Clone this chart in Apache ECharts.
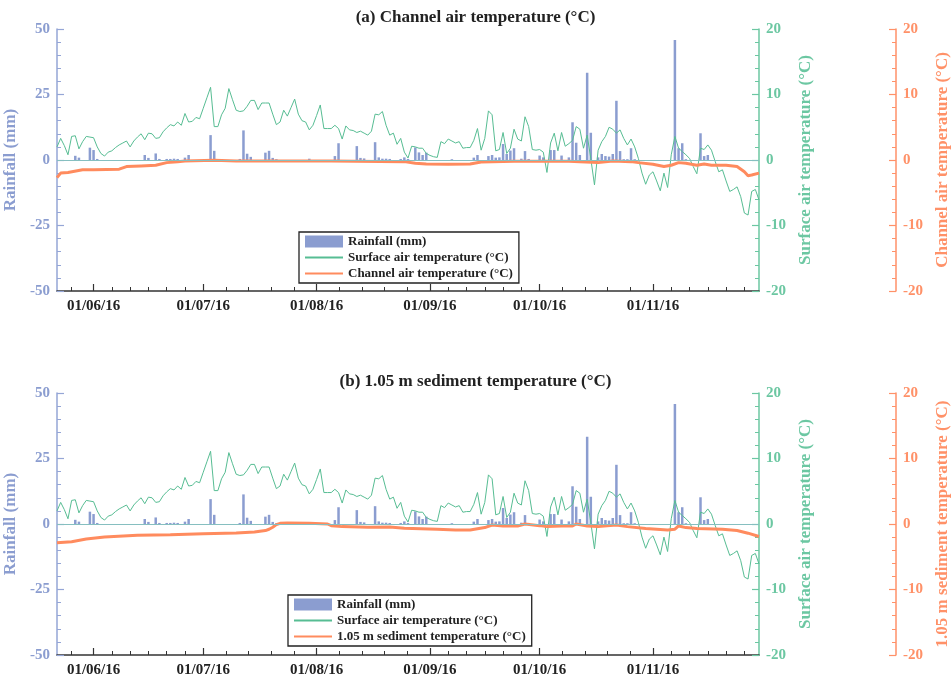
<!DOCTYPE html>
<html>
<head>
<meta charset="utf-8">
<script src="https://cdn.jsdelivr.net/npm/echarts@6/dist/echarts.min.js"></script>
<style>
html,body{margin:0;padding:0;background:#fff;}
#chart{width:951px;height:684px;}
</style>
</head>
<body>
<div id="chart"></div>
<script>
// ---------------- DATA ----------------
// daily series starting 22 May 2016 (index 0) to 30 Nov 2016 (index 192)
const startYear = 2016, startMonth = 4, startDay = 22;

const rainfall = [
 0,0,0,0,0,1.6,0.9,0,0,4.7,
 3.8,0.4,0,0,0,0,0,0,0,0,
 0,0,0,0,1.9,0.8,0,2.5,0.4,0,
 0.4,0.4,0.5,0.4,0,0.9,1.9,0,0,0,
 0,0,9.5,3.5,0,0,0,0,0,0,
 0.4,11.3,2.4,1.2,0,0,0,2.8,3.5,0.8,
 0.3,0,0,0,0,0,0,0,0,0.5,
 0,0,0,0,0,0,1.5,6.4,0,0,
 0,0,5.3,0.8,0.6,0,0,6.8,1.0,0.5,
 0.5,0.4,0,0,0.4,1.0,0.4,0,4.8,2.9,
 1.9,2.8,0,0,0,0,0,0,0.3,0,
 0,0,0,0,0.9,1.9,0,0,1.5,1.9,
 0.9,1.0,6.1,2.3,3.6,4.5,0,0.5,3.4,0.4,
 0,0,1.7,1.0,0,3.8,3.8,0,1.7,0,
 1.0,14.4,6.6,1.9,0,33.3,10.4,0,1.0,2.3,
 1.5,1.3,2.3,22.6,3.4,0.3,0.3,4.5,0.3,0,
 0,0,0,0,0,0,0,0,0,45.8,
 4.5,6.4,0.3,0,0,0,10.2,1.5,1.9,0,
 0,0,0,0,0,0,0,0,0,0,
 0,0,0
];

const surfaceTemp = [
 2.0,3.3,2.2,0.8,3.6,3.7,1.7,2.8,3.6,3.5,
 3.4,2.0,1.0,0.6,1.2,1.4,1.9,2.3,2.6,2.9,
 2.0,2.9,3.5,4.0,3.1,4.1,4.0,3.3,3.4,4.3,
 4.9,5.4,5.2,5.8,5.3,7.1,5.8,5.9,6.5,6.3,
 7.9,9.5,11.1,5.1,5.1,6.9,7.9,10.9,9.2,7.6,
 7.4,7.5,8.2,9.1,9.1,7.7,8.7,8.7,8.7,7.0,
 5.4,5.8,7.6,6.7,8.0,9.3,7.0,6.0,5.8,4.6,
 5.3,6.8,8.4,4.8,4.8,4.8,5.3,4.8,3.2,5.2,
 4.6,4.5,4.2,4.4,4.1,3.8,4.4,7.0,6.9,7.4,
 5.3,3.8,4.1,2.4,3.3,1.2,0.3,2.1,2.0,1.8,
 1.8,1.0,0.7,0.5,0.4,2.8,2.5,3.2,2.9,2.6,
 2.8,1.8,1.9,1.9,3.0,4.8,1.5,3.3,7.5,6.9,
 1.4,1.6,4.2,1.0,1.8,4.7,3.2,2.9,6.6,5.1,
 1.6,1.5,1.6,1.2,-1.9,2.6,4.1,1.4,4.2,2.1,
 2.5,3.0,5.1,4.7,1.8,3.8,0.2,-3.8,1.5,2.8,
 3.6,5.0,4.7,4.1,4.6,3.3,2.3,3.2,2.0,0.25,
 -2.0,-3.7,-2.3,-1.8,-3.2,-4.7,-2.0,-4.2,0.8,3.6,
 1.8,1.3,0.8,0.25,-1.0,-2.1,1.8,1.6,2.3,1.5,
 -0.2,-1.8,-1.5,-3.2,-4.8,-4.5,-4.1,-5.6,-8.1,-8.4,
 -4.8,-4.5,-6.1
];

// channel air temperature: day index and value
const channelDay = [0,1,3,7,10,17,19,23,27,30,33,35,43,49,60,75,95,98,101,107,113,116,125,140,143,148,152,157,159,163,166,168,170,172,175,177,179,183,186,188,189,190,192];
const channelTemp = [-2.7,-2.0,-1.9,-1.5,-1.5,-1.4,-1.0,-0.9,-0.8,-0.4,-0.25,-0.15,-0.05,-0.15,-0.15,-0.15,-0.25,-0.5,-0.6,-0.65,-0.6,-0.3,-0.2,-0.2,-0.25,-0.4,-0.15,-0.25,-0.4,-0.66,-1.0,-0.8,-0.4,-0.5,-0.8,-0.6,-0.8,-0.8,-1.0,-1.8,-2.4,-2.3,-2.0];

// 1.05 m sediment temperature: day index and value
const sedimentDay = [0,4,8,13,22,31,40,49,54,57,58,59,60,61,63,69,74,75,78,85,91,95,104,109,113,117,119,122,126,128,132,134,138,141,142,145,148,153,156,161,167,169,170,172,175,182,186,189,192];
const sedimentTemp = [-2.85,-2.7,-2.3,-2.0,-1.73,-1.63,-1.48,-1.37,-1.22,-1.0,-0.8,-0.5,-0.1,0.1,0.15,0.1,0.0,-0.25,-0.4,-0.5,-0.45,-0.66,-0.8,-0.9,-0.9,-0.55,-0.15,-0.3,-0.3,0.0,-0.25,-0.4,-0.3,-0.3,0.0,-0.3,-0.4,-0.15,-0.4,-0.7,-0.9,-0.8,-0.3,-0.55,-0.7,-0.8,-1.0,-1.4,-1.9];

const monthLabels = [[2016,5,1],[2016,6,1],[2016,7,1],[2016,8,1],[2016,9,1],[2016,10,1]];
const titles = ['(a) Channel air temperature (°C)', '(b) 1.05 m sediment temperature (°C)'];
const names = {
  rain: 'Rainfall (mm)',
  surf: 'Surface air temperature (°C)',
  chan: 'Channel air temperature (°C)',
  sed: '1.05 m sediment temperature (°C)'
};

// ---------------- BUILD ----------------
const dayTs = i => new Date(startYear, startMonth, startDay + i).getTime();
const xMin = dayTs(0), xMax = dayTs(surfaceTemp.length - 1);
const rainPairs = rainfall.map((v, i) => [dayTs(i), v]);
const surfPairs = surfaceTemp.map((v, i) => [dayTs(i), v]);
const chanPairs = channelDay.map((d, k) => [dayTs(d), channelTemp[k]]);
const sedPairs = sedimentDay.map((d, k) => [dayTs(d), sedimentTemp[k]]);

const majorTicks = monthLabels.map(m => new Date(m[0], m[1], m[2]).getTime());
// minor ticks: each month split into 5 (31-day) or 6 (30-day) parts
const minorTicks = [];
for (let m = 4; m <= 10; m++) {
  const s = new Date(2016, m, 1).getTime();
  const e = new Date(2016, m + 1, 1).getTime();
  const len = Math.round((e - s) / 86400000);
  const n = len === 31 ? 5 : 6;
  for (let k = 1; k < n; k++) {
    const t = s + (e - s) * k / n;
    if (t >= xMin && t <= xMax) minorTicks.push(t);
  }
}

const FONT = "'Liberation Serif','Times New Roman',serif";
const C_RAIN = '#8b9dd0', C_RAIN_AX = '#95a6d6';
const C_SURF = '#57bd93', C_SURF_AX = '#6cc7a2';
const C_ORNG = '#ff8b5e', C_ORNG_AX = '#ff9168';
const pad = n => (n < 10 ? '0' : '') + n;
const fmt = v => { const d = new Date(v); return pad(d.getDate()) + '/' + pad(d.getMonth() + 1) + '/' + String(d.getFullYear()).slice(2); };

const grids = [
  {left: 57, top: 29, width: 702, height: 262, outerBoundsMode: 'none', containLabel: false},
  {left: 57, top: 393, width: 702, height: 262, outerBoundsMode: 'none', containLabel: false}
];

const xAxes = [], yAxes = [], series = [], legends = [], titleArr = [];
function yAxisDef(g, pos, offset, min, max, interval, color, labelColor, name, gap) {
  return {
    type: 'value', gridIndex: g, position: pos, offset: offset, min: min, max: max, interval: interval,
    alignTicks: false,
    axisLine: {show: true, onZero: false, lineStyle: {color: color, width: 1.5}},
    axisTick: {show: true, inside: true, length: 7, lineStyle: {color: color, width: 1.2}},
    minorTick: {show: true, splitNumber: 5, length: 4, lineStyle: {color: color, width: 1}},
    splitLine: {show: false}, minorSplitLine: {show: false},
    axisLabel: {color: labelColor, fontFamily: FONT, fontWeight: 'bold', fontSize: 15, margin: 7},
    name: name, nameLocation: 'middle', nameGap: gap, nameRotate: 90,
    nameTextStyle: {color: labelColor, fontFamily: FONT, fontWeight: 'bold', fontSize: 17}
  };
}

for (let g = 0; g < 2; g++) {
  xAxes.push({
    type: 'value', gridIndex: g, position: 'bottom', min: xMin, max: xMax, scale: true,
    axisLine: {show: true, onZero: false, lineStyle: {color: '#333', width: 1.5}},
    axisTick: {show: true, inside: true, length: 7, customValues: majorTicks, lineStyle: {color: '#333', width: 1.2}},
    axisLabel: {show: true, customValues: majorTicks, formatter: fmt, color: '#222', fontFamily: FONT, fontWeight: 'bold', fontSize: 15, margin: 8},
    splitLine: {show: false}
  });
  xAxes.push({
    type: 'value', gridIndex: g, position: 'bottom', min: xMin, max: xMax, scale: true,
    axisLine: {show: false, onZero: false},
    axisTick: {show: true, inside: true, length: 4, customValues: minorTicks, lineStyle: {color: '#333', width: 1}},
    axisLabel: {show: false},
    splitLine: {show: false}
  });
  const base = g * 3;
  yAxes.push(yAxisDef(g, 'left', 0, -50, 50, 25, C_RAIN_AX, C_RAIN, names.rain, 24));
  yAxes.push(yAxisDef(g, 'right', 0, -20, 20, 10, C_SURF_AX, C_SURF_AX, names.surf, 28));
  yAxes.push(yAxisDef(g, 'right', 137, -20, 20, 10, C_ORNG_AX, C_ORNG_AX, g === 0 ? names.chan : names.sed, 33));

  series.push({
    type: 'bar', name: names.rain, xAxisIndex: g * 2, yAxisIndex: base, data: rainPairs,
    barWidth: 2.5, itemStyle: {color: C_RAIN}, z: 2,
    markLine: {silent: true, symbol: 'none', label: {show: false}, lineStyle: {color: '#86bfc0', width: 1, type: 'solid'}, data: [{yAxis: 0}]}
  });
  series.push({
    type: 'line', name: names.surf, xAxisIndex: g * 2, yAxisIndex: base + 1, data: surfPairs,
    symbol: 'none', showSymbol: false, lineStyle: {color: C_SURF, width: 1}, itemStyle: {color: C_SURF}, z: 3
  });
  series.push({
    type: 'line', name: g === 0 ? names.chan : names.sed, xAxisIndex: g * 2, yAxisIndex: base + 2,
    data: g === 0 ? chanPairs : sedPairs,
    symbol: 'none', showSymbol: false, lineStyle: {color: C_ORNG, width: 3}, itemStyle: {color: C_ORNG}, z: 4
  });

  legends.push({
    data: [
      {name: names.rain, icon: 'rect'},
      {name: names.surf, itemStyle: {opacity: 0}},
      {name: g === 0 ? names.chan : names.sed, itemStyle: {opacity: 0}}
    ],
    orient: 'vertical', left: g === 0 ? 299 : 288, top: g === 0 ? 232 : 595,
    itemWidth: 38, itemHeight: 12, itemGap: 3, padding: [3, 6, 3, 5],
    borderColor: '#222', borderWidth: 1.3, selectedMode: false,
    textStyle: {color: '#222', fontFamily: FONT, fontWeight: 'bold', fontSize: 13}
  });
  titleArr.push({
    text: titles[g], left: 'center', top: g === 0 ? 9 : 373, padding: 0,
    textStyle: {color: '#222', fontFamily: FONT, fontWeight: 'bold', fontSize: 17}
  });
}

const chart = echarts.init(document.getElementById('chart'), null, {renderer: 'canvas'});
chart.setOption({
  animation: false,
  backgroundColor: '#fff',
  title: titleArr,
  grid: grids,
  xAxis: xAxes,
  yAxis: yAxes,
  legend: legends,
  series: series
});
</script>
</body>
</html>
